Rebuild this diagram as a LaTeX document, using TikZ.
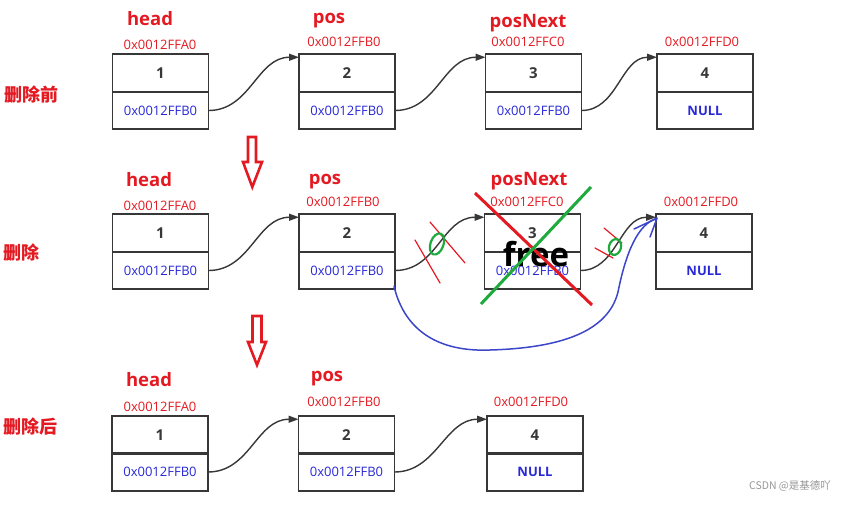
\documentclass[tikz,border=0pt]{standalone}
\usepackage{fontspec}
\setmainfont{Open Sans}
\newfontfamily\cjk{Noto Sans CJK SC}
\usetikzlibrary{arrows.meta}
\definecolor{lblred}{RGB}{228,26,34}
\definecolor{txtblue}{RGB}{40,40,215}
\definecolor{penblue}{RGB}{60,70,200}
\definecolor{pengreen}{RGB}{30,170,60}
\definecolor{boxgray}{RGB}{55,55,55}
\definecolor{markgray}{RGB}{150,150,150}
\begin{document}
\begin{tikzpicture}[x=1pt,y=-1pt,
  cell/.style={draw=boxgray,line width=1.8pt,minimum width=96pt,minimum height=37.5pt,inner sep=0pt,outer sep=0pt},
  numtxt/.style={font=\fontsize{15}{15}\selectfont\bfseries,text=boxgray},
  ptrtxt/.style={font=\fontsize{13}{13}\selectfont,text=txtblue},
  nulltxt/.style={font=\fontsize{13}{13}\selectfont\bfseries,text=txtblue},
  addrtxt/.style={font=\fontsize{13}{13}\selectfont,text=lblred,inner sep=0pt},
  nametxt/.style={font=\fontsize{18.5}{19}\selectfont\bfseries,text=lblred,inner sep=0pt},
  rowtxt/.style={font=\cjk\fontsize{18}{18}\selectfont\bfseries,text=lblred,inner sep=0pt},
  link/.style={draw=boxgray,line width=1.4pt,-{Triangle[length=10pt,width=7pt]}},
  downarrow/.style={draw=lblred,line width=2.6pt,line join=miter,fill=white},
  scratch/.style={draw=lblred,line width=1.2pt,line cap=round},
  ring/.style={draw=pengreen,line width=2.2pt}
]
\useasboundingbox (0,0) rectangle (855,512);

% ---------- row labels ----------
\node[rowtxt] (lbl1) at (32,95) {删除前};
\node[rowtxt] (lbl2) at (22,253) {删除};
\node[rowtxt] (lbl3) at (31,427) {删除后};

% ---------- row 1 ----------
\node[cell,numtxt] (a1) at (160.5,73) {1};
\node[cell,ptrtxt] (a1p) at (160.5,110.5) {0x0012FFB0};
\node[cell,numtxt] (b1) at (347,73) {2};
\node[cell,ptrtxt] (b1p) at (347,110.5) {0x0012FFB0};
\node[cell,numtxt] (c1) at (533.5,73) {3};
\node[cell,ptrtxt] (c1p) at (533.5,110.5) {0x0012FFB0};
\node[cell,numtxt] (d1) at (705,73) {4};
\node[cell,nulltxt] (d1p) at (705,110.5) {NULL};

\node[nametxt] (h1) at (150,19) {head};
\node[nametxt] (p1) at (329,21) {pos};
\node[nametxt] (n1) at (528,23) {posNext};
\node[addrtxt] (aa1) at (160,45) {0x0012FFA0};
\node[addrtxt] (ab1) at (344,42) {0x0012FFB0};
\node[addrtxt] (ac1) at (528,42) {0x0012FFC0};
\node[addrtxt] (ad1) at (702,42) {0x0012FFD0};

\draw[link] (a1p.east) .. controls +(42,0) and +(-42,0) .. ([yshift=-3pt]b1.north west);
\draw[link] (b1p.east) .. controls +(42,0) and +(-42,0) .. ([yshift=-3pt]c1.north west);
\draw[link] (c1p.east) .. controls +(36,0) and +(-36,0) .. ([yshift=-3pt]d1.north west);

% ---------- down arrows ----------
\draw[downarrow] (248,137) -- (256,137) -- (256,162) -- (262,162) -- (252.3,187) -- (243,162) -- (248,162) -- cycle;
\draw[downarrow] (252.5,316) -- (261.5,316) -- (261.5,342) -- (266,342) -- (257,365) -- (248,342) -- (252.5,342) -- cycle;

% ---------- row 2 ----------
\node[cell,numtxt] (a2) at (160.5,233) {1};
\node[cell,ptrtxt] (a2p) at (160.5,270.5) {0x0012FFB0};
\node[cell,numtxt] (b2) at (347,233) {2};
\node[cell,ptrtxt] (b2p) at (347,270.5) {0x0012FFB0};
\node[cell,numtxt] (c2) at (532.5,233) {3};
\node[cell,ptrtxt] (c2p) at (532.5,270.5) {0x0012FFB0};
\node[cell,numtxt] (d2) at (704,233) {4};
\node[cell,nulltxt] (d2p) at (704,270.5) {NULL};

\node[nametxt] (h2) at (149,180) {head};
\node[nametxt] (p2) at (325,182) {pos};
\node[nametxt] (n2) at (529,181) {posNext};
\node[addrtxt] (aa2) at (160,206) {0x0012FFA0};
\node[addrtxt] (ab2) at (343,202) {0x0012FFB0};
\node[addrtxt] (ac2) at (527,202) {0x0012FFC0};
\node[addrtxt] (ad2) at (701,202) {0x0012FFD0};

\draw[link] (a2p.east) .. controls +(42,0) and +(-42,0) .. ([yshift=-3pt]b2.north west);
\draw[link] (b2p.east) .. controls +(42,0) and +(-42,0) .. ([yshift=-3pt]c2.north west);
\draw[link] (c2p.east) .. controls +(36,0) and +(-36,0) .. ([yshift=-3pt]d2.north west);

% scratch marks on the old links
\draw[scratch] (415,240) -- (440,283);
\draw[scratch] (430,222) -- (465,263);
\draw[ring,rotate around={-20:(437,244)}] (437,244) ellipse [x radius=6.5pt,y radius=11pt];
\draw[scratch] (604,228) -- (622,243);
\draw[scratch] (595,248) -- (613,258);
\draw[ring,rotate around={-15:(615,247)}] (615,247) ellipse [x radius=6pt,y radius=8pt];

% freed node
\node[font=\fontsize{33}{33}\selectfont\bfseries,text=black,inner sep=0pt] (free) at (536,254) {free};
\draw[draw=lblred,line width=3pt] (475,193) -- (592,305);
\draw[draw=pengreen,line width=3pt] (591,187) -- (481,304);

% new link drawn by hand
\coordinate (bt) at ([xshift=1pt,yshift=-4pt]d2.north west);
\draw[draw=penblue,line width=1.5pt,line cap=round]
  ([xshift=-1pt,yshift=3pt]b2p.south east) .. controls (405,332) and (440,352) .. (490,350)
  .. controls (560,348) and (608,332) .. (618,292)
  .. controls (626,252) and (638,224) .. (bt);
\draw[draw=penblue,line width=1.5pt,line cap=round,line join=round]
  (634,229) -- (bt) -- (650,237);

% ---------- row 3 ----------
\node[cell,numtxt] (a3) at (160,435) {1};
\node[cell,ptrtxt] (a3p) at (160,472) {0x0012FFB0};
\node[cell,numtxt] (b3) at (346.5,435) {2};
\node[cell,ptrtxt] (b3p) at (346.5,472) {0x0012FFB0};
\node[cell,numtxt] (d3) at (535,435) {4};
\node[cell,nulltxt] (d3p) at (535,472) {NULL};

\node[nametxt] (h3) at (149,380) {head};
\node[nametxt] (p3) at (327,379) {pos};
\node[addrtxt] (aa3) at (160,407) {0x0012FFA0};
\node[addrtxt] (ab3) at (344,402) {0x0012FFB0};
\node[addrtxt] (ad3) at (531,402) {0x0012FFD0};

\draw[link] (a3p.east) .. controls +(42,0) and +(-42,0) .. ([yshift=-3pt]b3.north west);
\draw[link] (b3p.east) .. controls +(42,0) and +(-42,0) .. ([yshift=-3pt]d3.north west);

% watermark
\node[font=\cjk\fontsize{10.5}{11}\selectfont,text=markgray,inner sep=0pt] (wm) at (790,486) {CSDN @是基德吖};
\end{tikzpicture}
\end{document}
